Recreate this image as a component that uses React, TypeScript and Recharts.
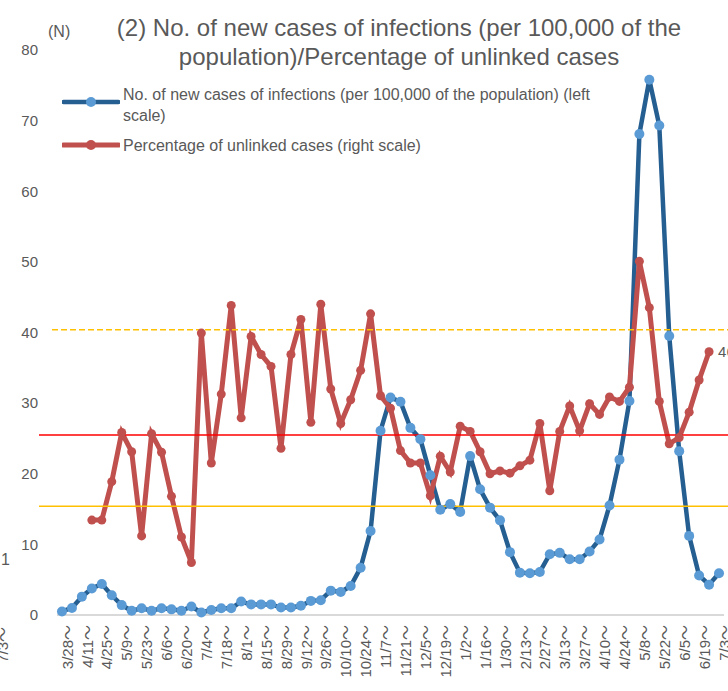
import React from 'react';
import { ComposedChart, Line, XAxis, YAxis, ReferenceLine, LabelList } from 'recharts';

const FONT = '"Liberation Sans", Arial, "Noto Sans CJK JP", sans-serif';
const TEXT = '#595959';
const BLUE_LINE = '#255E91';
const BLUE_DOT = '#5B9BD5';
const RED = '#C0504D';

// weekly start dates (3/28/2020 – 7/3/2021)
const weeks = [
  '3/28', '4/4', '4/11', '4/18', '4/25', '5/2', '5/9', '5/16', '5/23', '5/30',
  '6/6', '6/13', '6/20', '6/27', '7/4', '7/11', '7/18', '7/25', '8/1', '8/8',
  '8/15', '8/22', '8/29', '9/5', '9/12', '9/19', '9/26', '10/3', '10/10', '10/17',
  '10/24', '10/31', '11/7', '11/14', '11/21', '11/28', '12/5', '12/12', '12/19', '12/26',
  '1/2', '1/9', '1/16', '1/23', '1/30', '2/6', '2/13', '2/20', '2/27', '3/6',
  '3/13', '3/20', '3/27', '4/3', '4/10', '4/17', '4/24', '5/1', '5/8', '5/15',
  '5/22', '5/29', '6/5', '6/12', '6/19', '6/26', '7/3',
];

// No. of new cases of infections per 100,000 (left scale)
const newCases = [
  0.5, 1.0, 2.6, 3.75, 4.4, 2.8, 1.4, 0.6, 0.95, 0.6,
  0.95, 0.8, 0.6, 1.2, 0.35, 0.7, 0.95, 0.95, 1.9, 1.5,
  1.5, 1.5, 1.05, 1.05, 1.3, 2.0, 2.1, 3.45, 3.25, 4.1,
  6.7, 11.9, 26.1, 30.8, 30.2, 26.5, 24.9, 19.8, 14.9, 15.7,
  14.6, 22.5, 17.8, 15.2, 13.4, 8.9, 6.0, 5.9, 6.1, 8.6,
  8.8, 7.9, 7.9, 9.0, 10.7, 15.5, 22.0, 30.3, 68.1, 75.8,
  69.3, 39.5, 23.2, 11.2, 5.6, 4.3, 5.9,
];

// Percentage of unlinked cases (right scale, %)
const unlinkedPct = [
  null, null, null, 16.8, 16.8, 23.6, 32.3, 28.9, 14.0, 32.1,
  28.8, 21.0, 13.8, 9.3, 49.9, 26.9, 39.1, 54.8, 34.9, 49.3,
  46.1, 44.0, 29.5, 46.1, 52.3, 34.1, 55.0, 40.0, 33.9, 38.1,
  43.3, 53.3, 38.8, 36.6, 29.1, 26.9, 26.9, 21.1, 28.1, 25.3,
  33.4, 32.5, 28.9, 25.0, 25.5, 25.1, 26.4, 27.4, 33.9, 22.0,
  32.5, 37.0, 32.6, 37.4, 35.5, 38.6, 37.8, 40.3, 62.6, 54.4,
  37.8, 30.3, 31.4, 35.9, 41.6, 46.6, null,
];

const lastUnlinkedLabel = '46.6%';
const leftTicks = [0, 10, 20, 30, 40, 50, 60, 70, 80];
const xTicks = [0, 2, 4, 6, 8, 10, 12, 14, 16, 18, 20, 22, 24, 26, 28, 30, 32, 34, 36, 38, 40, 42, 44, 46, 48, 50, 52, 54, 56, 58, 60, 62, 64, 66];

const stage3Level = 15.4;
const stage4Level = 25.5;
const unlinkedLevel = 50.5;

const casesName = 'No. of new cases of infections (per 100,000 of the population) (left scale)';
const unlinkedName = 'Percentage of unlinked cases (right scale)';

const data = weeks.map((w, i) => ({
  idx: i,
  week: w,
  cases: newCases[i],
  unlinked: unlinkedPct[i],
  lbl: i === 65 ? lastUnlinkedLabel : null,
}));

const LegendBox = () => (
  <div style={{ position: 'absolute', left: 60, top: 84, width: 660, height: 80, fontFamily: FONT, fontSize: 16, color: TEXT }}>
    <svg width={58} height={14} style={{ position: 'absolute', left: 2, top: 11 }}>
      <line x1={1.5} y1={7} x2={56.5} y2={7} stroke={BLUE_LINE} strokeWidth={4.5} strokeLinecap="round" />
      <circle cx={29} cy={7} r={5} fill={BLUE_DOT} />
    </svg>
    <div style={{ position: 'absolute', left: 63, top: 0, lineHeight: '21px', whiteSpace: 'nowrap' }}>
      No. of new cases of infections (per 100,000 of the population) (left
      <br />
      scale)
    </div>
    <svg width={58} height={14} style={{ position: 'absolute', left: 2, top: 54 }}>
      <line x1={1.5} y1={7} x2={56.5} y2={7} stroke={RED} strokeWidth={5} strokeLinecap="round" />
      <circle cx={29} cy={7} r={5} fill={RED} />
    </svg>
    <div style={{ position: 'absolute', left: 63, top: 51, lineHeight: '21px', whiteSpace: 'nowrap' }}>
      {unlinkedName}
    </div>
  </div>
);

export default function App() {
  return (
    <div style={{ position: 'absolute', left: 0, top: 0, width: 728, height: 691, background: '#fff', overflow: 'hidden' }}>
      <ComposedChart
        width={728}
        height={691}
        data={data}
        margin={{ top: 50, right: 4, bottom: 0, left: 0 }}
        style={{ fontFamily: FONT }}
      >
        <XAxis
          dataKey="idx"
          type="number"
          domain={[-0.5, 66.5]}
          ticks={xTicks}
          interval={0}
          height={76}
          tickFormatter={(v: number) => weeks[v] + '～'}
          angle={-90}
          textAnchor="end"
          tickLine={false}
          tickSize={0}
          tickMargin={10}
          axisLine={{ stroke: '#D9D9D9', strokeWidth: 2 }}
          tick={{ fill: TEXT, fontSize: 15, fontFamily: FONT }}
        />
        <YAxis
          yAxisId="left"
          width={57}
          domain={[0, 80]}
          ticks={leftTicks}
          interval={0}
          axisLine={false}
          tickLine={false}
          tickSize={0}
          tickMargin={19}
          tick={{ fill: TEXT, fontSize: 15, fontFamily: FONT }}
        />
        <YAxis yAxisId="right" orientation="right" hide domain={[0, 100]} />
        <Line
          yAxisId="left"
          name={casesName}
          dataKey="cases"
          stroke={BLUE_LINE}
          strokeWidth={4.5}
          dot={{ r: 5, fill: BLUE_DOT, stroke: BLUE_DOT, strokeWidth: 0 }}
          activeDot={false}
          isAnimationActive={false}
        />
        <Line
          yAxisId="right"
          name={unlinkedName}
          dataKey="unlinked"
          stroke={RED}
          strokeWidth={5}
          dot={{ r: 4.5, fill: RED, stroke: RED, strokeWidth: 0 }}
          activeDot={false}
          isAnimationActive={false}
        >
          <LabelList dataKey="lbl" position="right" offset={9} fill={TEXT} fontSize={15} fontFamily={FONT} />
        </Line>
        <ReferenceLine
          yAxisId="left"
          segment={[{ x: -2.31, y: stage4Level }, { x: 68, y: stage4Level }]}
          stroke="#FF0000"
          strokeWidth={1.5}
          ifOverflow="visible"
        />
        <ReferenceLine
          yAxisId="left"
          segment={[{ x: -2.31, y: stage3Level }, { x: 68, y: stage3Level }]}
          stroke="#FFC000"
          strokeWidth={1.5}
          ifOverflow="visible"
        />
        <ReferenceLine
          yAxisId="right"
          segment={[{ x: -1.0, y: unlinkedLevel }, { x: 68, y: unlinkedLevel }]}
          stroke="#FFC000"
          strokeWidth={1.5}
          strokeDasharray="6 3"
          ifOverflow="visible"
        />
      </ComposedChart>
      <LegendBox />
      <div style={{ position: 'absolute', left: 0, top: 13, width: 798, textAlign: 'center', fontFamily: FONT, fontSize: 24, lineHeight: '29px', color: TEXT }}>
        (2) No. of new cases of infections (per 100,000 of the
        <br />
        population)/Percentage of unlinked cases
      </div>
      <div style={{ position: 'absolute', left: 48, top: 23, fontFamily: FONT, fontSize: 16, color: TEXT }}>(N)</div>
      <div style={{ position: 'absolute', left: 1, top: 551, fontFamily: FONT, fontSize: 16, color: TEXT }}>1</div>
      <svg width={20} height={80} style={{ position: 'absolute', left: 0, top: 611 }}>
        <text x={8} y={16} transform="rotate(-90, 8, 16)" textAnchor="end" fill={TEXT} fontSize={15} fontFamily={FONT}>
          7/3～
        </text>
      </svg>
    </div>
  );
}
